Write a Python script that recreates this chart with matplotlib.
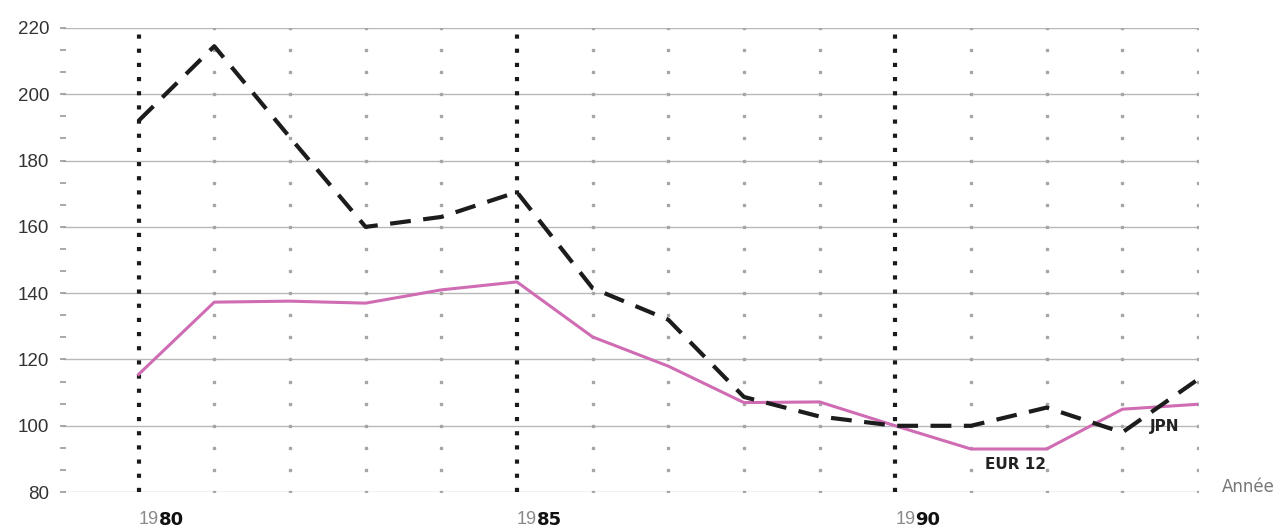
import matplotlib.pyplot as plt
import numpy as np

plt.rcParams['font.family'] = ['Liberation Sans', 'DejaVu Sans']

years = [1980, 1981, 1982, 1983, 1984, 1985, 1986, 1987, 1988, 1989, 1990, 1991, 1992, 1993, 1994]
eur12 = [115.5, 137.3, 137.6, 137.0, 141.0, 143.4, 126.8, 118.0, 107.0, 107.2, 100.0, 93.0, 93.0, 105.0, 106.5]
jpn = [192.0, 214.5, 187.0, 160.0, 163.0, 170.5, 141.5, 132.0, 108.7, 102.8, 100.0, 100.0, 105.5, 98.0, 114.0]
major_years = [1980, 1985, 1990]
y_ticks = [80, 100, 120, 140, 160, 180, 200, 220]

fig = plt.figure(figsize=(12.84, 5.28), dpi=100)
ax = fig.add_axes([0.049, 0.068, 0.884, 0.879])
ax.set_xlim(1979, 1994)
ax.set_ylim(80, 220)
for s in ax.spines.values():
    s.set_visible(False)

# horizontal grid
for y in y_ticks:
    ax.axhline(y, color='#b8b8b8', lw=1.0, zorder=1)

# dotted verticals (grey dots at minor y steps)
minor_y = np.linspace(80, 220, 22)
for x in range(1980, 1995):
    if x in major_years:
        continue
    ax.plot([x] * len(minor_y), minor_y, ls='none', marker='s', ms=2.1,
            color='#a6a6a6', zorder=1)
# heavy dotted verticals
for x in major_years:
    ax.plot([x, x], [80, 220], color='#1a1a1a', lw=3.0, ls=(0, (1, 2.4)), zorder=2)

# y tick dashes on the left axis
ax.plot([1979] * len(minor_y), minor_y, ls='none', marker='_', ms=4, mew=1.2,
        color='#999999', zorder=2, clip_on=False)

ax.plot(years, eur12, color='#cf6cb3', lw=2.2, zorder=3)
ax.plot(years, jpn, color='#1c1c1c', lw=3.0, ls=(0, (5, 3)), zorder=4)

ax.set_xticks([])
ax.set_yticks(y_ticks)
ax.tick_params(axis='y', length=0, pad=10, labelsize=13.5, labelcolor='#333333')

for x in major_years:
    t = ax.annotate(str(x)[:2], xy=(x, 80), xytext=(0, -20), textcoords='offset points',
                    ha='left', va='center', fontsize=13, color='#8a8a8a', annotation_clip=False)
    ax.annotate(str(x)[2:], xy=(1, 0.5), xycoords=t, ha='left', va='center',
                fontsize=13, fontweight='bold', family='DejaVu Sans', color='#111111',
                annotation_clip=False)

ax.text(1991.18, 88.4, 'EUR 12', fontsize=11, fontweight='bold', family='DejaVu Sans',
        color='#222222', ha='left', va='center')
ax.text(1993.36, 99.7, 'JPN', fontsize=11, fontweight='bold', family='DejaVu Sans',
        color='#222222', ha='left', va='center')
ax.text(1994.32, 81.5, 'Année', fontsize=12, family='DejaVu Sans', color='#777777',
        ha='left', va='center', clip_on=False)

plt.savefig('out.png', dpi=100)
